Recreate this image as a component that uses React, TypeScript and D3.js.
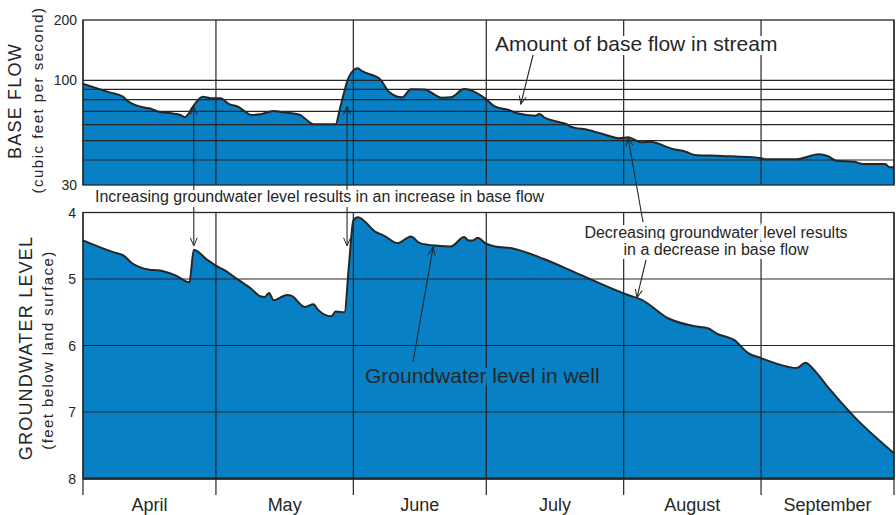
import * as d3 from "d3";
import { useEffect, useRef } from "react";

// month labels along the bottom
const months = ["April", "May", "June", "July", "August", "September"];

// y tick labels and grid lines
const baseFlowTicks = [200, 100, 30];
const baseFlowGrid = [40, 50, 60, 70, 80, 90, 100];
const levelTicks = [4, 5, 6, 7, 8];
const levelGrid = [5, 6, 7];

// base flow in stream, cubic feet per second
const baseFlow: [string, number][] = [
  ["04-01", 96], ["04-07", 87], ["04-10", 83], ["04-11", 79], ["04-15", 73],
  ["04-16", 72.5], ["04-18", 69.7], ["04-21", 68.4], ["04-23", 67.1], ["04-24", 65.4],
  ["04-26", 75], ["04-28", 82.8], ["04-30", 81.3], ["05-02", 81.3], ["05-04", 76],
  ["05-06", 73.8], ["05-09", 67.1], ["05-11", 67.6], ["05-14", 70.3], ["05-16", 69.3],
  ["05-20", 67.1], ["05-21", 64.6], ["05-23", 60.3], ["05-28", 60.3], ["05-29", 72.5],
  ["05-31", 104], ["06-02", 114.8], ["06-03", 111], ["06-07", 101.5], ["06-09", 87.7],
  ["06-12", 82.2], ["06-14", 90.2], ["06-17", 89.9], ["06-21", 81.8], ["06-23", 82.2],
  ["06-26", 90.4], ["06-29", 86.1], ["07-01", 80.4], ["07-03", 73.8], ["07-06", 71.1],
  ["07-08", 68.4], ["07-12", 66.5], ["07-13", 67.9], ["07-14", 65.4], ["07-17", 62.1],
  ["07-19", 60.5], ["07-20", 58.7], ["07-24", 56.5], ["07-28", 53.3], ["07-31", 51.3],
  ["08-02", 51.9], ["08-05", 49], ["08-07", 49.3], ["08-12", 45.4], ["08-15", 44],
  ["08-17", 42.4], ["08-23", 41.9], ["09-01", 40.8], ["09-02", 40.3], ["09-09", 40.3],
  ["09-14", 42.7], ["09-16", 41.9], ["09-18", 39.7], ["09-22", 39.2], ["09-24", 38.2],
  ["09-29", 38.2], ["09-30", 36.8], ["10-01", 36.8],
];

// groundwater level in well, feet below land surface
const gwLevel: [string, number][] = [
  ["04-01", 4.42], ["04-08", 4.6], ["04-10", 4.64], ["04-12", 4.76], ["04-16", 4.86],
  ["04-18", 4.87], ["04-22", 4.95], ["04-25", 5.05], ["04-26", 4.56], ["04-29", 4.71],
  ["05-01", 4.8], ["05-03", 4.87], ["05-06", 5.01], ["05-09", 5.15], ["05-11", 5.26],
  ["05-12", 5.27], ["05-13", 5.21], ["05-14", 5.32], ["05-17", 5.24], ["05-18", 5.25],
  ["05-21", 5.42], ["05-23", 5.38], ["05-24", 5.46], ["05-27", 5.56], ["05-28", 5.49],
  ["05-30", 5.5], ["05-31", 4.8], ["06-01", 4.12], ["06-02", 4.07], ["06-06", 4.29],
  ["06-08", 4.35], ["06-11", 4.46], ["06-14", 4.36], ["06-16", 4.46], ["06-20", 4.5],
  ["06-23", 4.51], ["06-26", 4.37], ["06-27", 4.42], ["06-28", 4.42], ["06-29", 4.38],
  ["07-01", 4.47], ["07-03", 4.51], ["07-07", 4.54], ["07-14", 4.7], ["07-21", 4.9],
  ["08-02", 5.24], ["08-05", 5.31], ["08-11", 5.59], ["08-17", 5.71], ["08-20", 5.74],
  ["08-22", 5.82], ["08-26", 5.92], ["08-29", 6.11], ["09-01", 6.19], ["09-07", 6.32],
  ["09-09", 6.34], ["09-11", 6.26], ["09-13", 6.37], ["09-16", 6.62], ["09-22", 7.07],
  ["10-01", 7.62],
];

const FILL = "#0880c6";
const INK = "#262626";
const FONT = "'Liberation Sans', Arial, Helvetica, sans-serif";

const parse = (s: string) =>
  new Date(`2000-${s.includes("T") ? s + ":00" : s + "T00:00"}:00Z`);

export default function App() {
  const svgRef = useRef<SVGSVGElement | null>(null);

  useEffect(() => {
    if (!svgRef.current) return;
    const svg = d3.select(svgRef.current);
    svg.selectAll("*").remove();

    const left = 83;
    const right = 894;
    const top1 = 20;
    const bot1 = 185;
    const top2 = 212.5;
    const bot2 = 478.5;

    const x = d3.scaleUtc().domain([parse("04-01"), parse("10-01")]).range([left, right]);
    const yTop = d3.scaleLog().domain([30, 200]).range([bot1, top1]);
    const yBot = d3.scaleLinear().domain([4, 8]).range([top2, bot2]);

    const monthEdges = d3.utcMonth.range(parse("04-01"), parse("10-02"));

    svg
      .append("defs")
      .append("marker")
      .attr("id", "vhead")
      .attr("viewBox", "-9 -5 10 10")
      .attr("markerWidth", 10)
      .attr("markerHeight", 10)
      .attr("markerUnits", "userSpaceOnUse")
      .attr("orient", "auto")
      .append("path")
      .attr("d", "M-8,-3.5L0,0L-8,3.5")
      .attr("fill", "none")
      .attr("stroke", INK)
      .attr("stroke-width", 1);

    // ---- top panel: base flow ----
    const flowArea = d3
      .area<[string, number]>()
      .curve(d3.curveMonotoneX)
      .x((d) => x(parse(d[0])))
      .y0(bot1)
      .y1((d) => yTop(d[1]));
    const flowLine = d3
      .line<[string, number]>()
      .curve(d3.curveMonotoneX)
      .x((d) => x(parse(d[0])))
      .y((d) => yTop(d[1]));

    svg.append("path").datum(baseFlow).attr("fill", FILL).attr("d", flowArea);

    svg
      .append("g")
      .selectAll("line")
      .data(baseFlowGrid)
      .join("line")
      .attr("x1", left)
      .attr("x2", right)
      .attr("y1", (d) => yTop(d))
      .attr("y2", (d) => yTop(d))
      .attr("stroke", INK)
      .attr("stroke-width", 1.2);

    svg
      .append("g")
      .selectAll("line")
      .data(monthEdges)
      .join("line")
      .attr("x1", (d) => x(d))
      .attr("x2", (d) => x(d))
      .attr("y1", top1)
      .attr("y2", bot1)
      .attr("stroke", INK)
      .attr("stroke-width", 1.2);

    svg
      .append("path")
      .datum(baseFlow)
      .attr("fill", "none")
      .attr("stroke", INK)
      .attr("stroke-width", 2)
      .attr("stroke-linejoin", "round")
      .attr("d", flowLine);

    svg
      .append("rect")
      .attr("x", left)
      .attr("y", top1)
      .attr("width", right - left)
      .attr("height", bot1 - top1)
      .attr("fill", "none")
      .attr("stroke", INK)
      .attr("stroke-width", 1.3);

    svg
      .append("g")
      .selectAll("text")
      .data(baseFlowTicks)
      .join("text")
      .attr("x", 77)
      .attr("y", (d) => yTop(d))
      .attr("dy", "0.36em")
      .attr("text-anchor", "end")
      .attr("font-size", 14)
      .attr("fill", INK)
      .text((d) => d);

    // ---- bottom panel: groundwater level ----
    const gwArea = d3
      .area<[string, number]>()
      .curve(d3.curveMonotoneX)
      .x((d) => x(parse(d[0])))
      .y0(bot2 + 1.5)
      .y1((d) => yBot(d[1]));
    const gwLine = d3
      .line<[string, number]>()
      .curve(d3.curveMonotoneX)
      .x((d) => x(parse(d[0])))
      .y((d) => yBot(d[1]));

    svg.append("path").datum(gwLevel).attr("fill", FILL).attr("d", gwArea);

    svg
      .append("g")
      .selectAll("line")
      .data(levelGrid)
      .join("line")
      .attr("x1", left)
      .attr("x2", right)
      .attr("y1", (d) => yBot(d))
      .attr("y2", (d) => yBot(d))
      .attr("stroke", INK)
      .attr("stroke-width", 1.2);

    svg
      .append("g")
      .selectAll("line")
      .data(monthEdges)
      .join("line")
      .attr("x1", (d) => x(d))
      .attr("x2", (d) => x(d))
      .attr("y1", top2)
      .attr("y2", 495)
      .attr("stroke", INK)
      .attr("stroke-width", 1.2);

    svg
      .append("path")
      .datum(gwLevel)
      .attr("fill", "none")
      .attr("stroke", INK)
      .attr("stroke-width", 2)
      .attr("stroke-linejoin", "round")
      .attr("d", gwLine);

    svg
      .append("rect")
      .attr("x", left)
      .attr("y", top2)
      .attr("width", right - left)
      .attr("height", bot2 - top2)
      .attr("fill", "none")
      .attr("stroke", INK)
      .attr("stroke-width", 1.3);
    svg
      .append("line")
      .attr("x1", left)
      .attr("x2", right)
      .attr("y1", yBot(8))
      .attr("y2", yBot(8))
      .attr("stroke", INK)
      .attr("stroke-width", 2);

    svg
      .append("g")
      .selectAll("text")
      .data(levelTicks)
      .join("text")
      .attr("x", 76)
      .attr("y", (d) => yBot(d))
      .attr("dy", "0.36em")
      .attr("text-anchor", "end")
      .attr("font-size", 14)
      .attr("fill", INK)
      .text((d) => d);

    // month labels centred in each month
    svg
      .append("g")
      .selectAll("text")
      .data(months)
      .join("text")
      .attr("x", (_, i) => (x(monthEdges[i]) + x(monthEdges[i + 1])) / 2)
      .attr("y", 511)
      .attr("text-anchor", "middle")
      .attr("font-size", 18)
      .attr("fill", INK)
      .text((d) => d);

    // axis titles
    const title = (label: string, cx: number, cy: number, size: number, spacing: number) =>
      svg
        .append("text")
        .attr("transform", `translate(${cx},${cy}) rotate(-90)`)
        .attr("text-anchor", "middle")
        .attr("dy", "0.36em")
        .attr("font-size", size)
        .style("letter-spacing", `${spacing}px`)
        .attr("fill", INK)
        .text(label);
    title("BASE FLOW", 14.5, 101, 18, 1.2);
    title("(cubic feet per second)", 38, 100, 15, 1.5);
    title("GROUNDWATER LEVEL", 26, 348, 18, 1.2);
    title("(feet below land surface)", 48, 350, 15, 1.4);

    // annotations
    const note = (label: string, tx: number, ty: number, size: number, anchor: string, halo: string) =>
      svg
        .append("text")
        .attr("x", tx)
        .attr("y", ty)
        .attr("text-anchor", anchor)
        .attr("font-size", size)
        .attr("fill", INK)
        .attr("stroke", halo)
        .attr("stroke-width", halo === "none" ? 0 : 8)
        .attr("stroke-linejoin", "round")
        .attr("paint-order", "stroke")
        .text(label);

    const arrow = (x1: number, y1: number, x2: number, y2: number) =>
      svg
        .append("line")
        .attr("x1", x1)
        .attr("y1", y1)
        .attr("x2", x2)
        .attr("y2", y2)
        .attr("stroke", INK)
        .attr("stroke-width", 1.1)
        .attr("marker-end", "url(#vhead)");

    note("Amount of base flow in stream", 495, 51, 21, "start", "#fff");
    arrow(533, 55, x(parse("07-08T19")), yTop(76));

    note("Increasing groundwater level results in an increase in base flow", 95, 202, 16, "start", "none");
    const riseApril = x(parse("04-26"));
    const riseMay = x(parse("05-30T14"));
    arrow(riseApril, 190, riseApril, yTop(74));
    arrow(riseApril, 207, riseApril, yBot(4.5));
    arrow(riseMay, 190, riseMay, yTop(74));
    arrow(riseMay, 207, riseMay, yBot(4.5));

    note("Decreasing groundwater level results", 716, 238, 16, "middle", "#fff");
    note("in a decrease in base flow", 716, 255, 16, "middle", "#fff");
    arrow(643, 222, x(parse("08-02")), yTop(51.5));
    arrow(646, 260, x(parse("08-04")), yBot(5.28));

    note("Groundwater level in well", 365, 383, 21, "start", FILL);
    arrow(413, 362, x(parse("06-19")), yBot(4.52));
  }, []);

  return (
    <svg
      ref={svgRef}
      width={896}
      height={515}
      style={{ position: "absolute", left: 0, top: 0, fontFamily: FONT, background: "#fff" }}
    />
  );
}
